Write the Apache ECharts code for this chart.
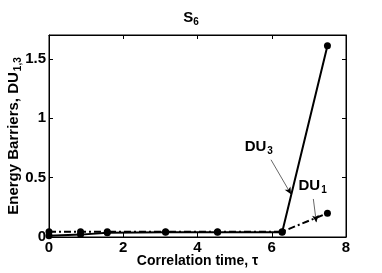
<!DOCTYPE html>
<html><head><meta charset="utf-8">
<script src="https://cdn.jsdelivr.net/npm/echarts@6/dist/echarts.min.js"></script>
<style>html,body{margin:0;padding:0;background:#fff}#c{width:382px;height:273px}</style>
</head><body><div id="c"></div>
<script>
var tau = [0, 0.85, 1.57, 3.14, 4.54, 6.28, 7.5];
var du3 = [0.01, 0.02, 0.035, 0.04, 0.04, 0.04, 1.61];
var du1 = [0.045, 0.045, 0.045, 0.045, 0.045, 0.045, 0.2];
var xTicks = [0, 2, 4, 6, 8];
var yTicks = [0, 0.5, 1, 1.5];

var F = "'Liberation Sans',Arial,sans-serif";
var chart = echarts.init(document.getElementById('c'));
function pairs(xs, ys){ return xs.map(function(x,i){return [x, ys[i]];}); }
var sub = {
  a:{fontFamily:F,fontWeight:'bold',fontSize:15,color:'#000'},
  s:{fontFamily:F,fontWeight:'bold',fontSize:10,color:'#000',padding:[9,0,0,1]}
};
var line = {show:true,onZero:false,lineStyle:{color:'#000',width:1}};
var tick = {show:true,inside:true,length:4,lineStyle:{color:'#000'}};
var noLabel = {show:false};
chart.setOption({
  animation:false,
  title:{text:'{a|S}{s|6}',left:'center',top:3,
    textStyle:{rich:{a:{fontFamily:F,fontSize:15,color:'#000'},s:{fontFamily:F,fontSize:10,color:'#000',padding:[9,0,0,0]}}}},
  grid:{left:49,right:36,top:35,bottom:36,containLabel:false,outerBoundsMode:'none',
    show:true,borderColor:'#000',borderWidth:1},
  xAxis:[{type:'value',min:0,max:8,interval:2,
    name:'Correlation time, τ',nameLocation:'middle',nameGap:17,nameMoveOverlap:false,
    nameTextStyle:{fontFamily:F,fontWeight:'bold',fontSize:14,color:'#000'},
    axisLine:line, axisTick:tick,
    axisLabel:{fontFamily:F,fontWeight:'bold',fontSize:15,color:'#000',margin:3},
    splitLine:{show:false}},
    {type:'value',min:0,max:8,interval:2,position:'top',show:true,
    axisLine:line, axisTick:tick, axisLabel:noLabel, splitLine:{show:false}}],
  yAxis:[{type:'value',min:0,max:1.7,interval:0.5,
    name:'{a|Energy Barriers, DU}{s|1,3}',nameLocation:'middle',nameGap:26,nameRotate:90,nameMoveOverlap:false,
    nameTextStyle:{rich:sub},
    axisLine:line, axisTick:tick,
    axisLabel:{fontFamily:F,fontWeight:'bold',fontSize:15,color:'#000',margin:3,showMaxLabel:false},
    splitLine:{show:false}},
    {type:'value',min:0,max:1.7,interval:0.5,position:'right',show:true,
    axisLine:line, axisTick:tick, axisLabel:noLabel, splitLine:{show:false}}],
  series:[
    {type:'line',name:'DU1',data:pairs(tau,du1),symbol:'circle',symbolSize:7,
      itemStyle:{color:'#000'},lineStyle:{color:'#000',width:2,type:[7,3,2,3]},z:3,
      markLine:{silent:true,symbol:['none','arrow'],symbolSize:[5,7],
        lineStyle:{color:'#000',width:0.6,type:'solid'},label:{show:false},
        data:[[{coord:[7.12,0.32]},{coord:[7.2,0.125]}]]},
      markPoint:{symbol:'circle',symbolSize:0,
        label:{show:true,formatter:'{a|DU}{s|1}',rich:sub},
        data:[{coord:[7.1,0.43]}]}},
    {type:'line',name:'DU3',data:pairs(tau,du3),symbol:'circle',symbolSize:7,
      itemStyle:{color:'#000'},lineStyle:{color:'#000',width:2},z:4,
      markLine:{silent:true,symbol:['none','arrow'],symbolSize:[5,7],
        lineStyle:{color:'#000',width:0.6,type:'solid'},label:{show:false},
        data:[[{coord:[5.98,0.65]},{coord:[6.52,0.36]}]]},
      markPoint:{symbol:'circle',symbolSize:0,
        label:{show:true,formatter:'{a|DU}{s|3}',rich:sub},
        data:[{coord:[5.65,0.76]}]}}
  ]
});
</script></body></html>
